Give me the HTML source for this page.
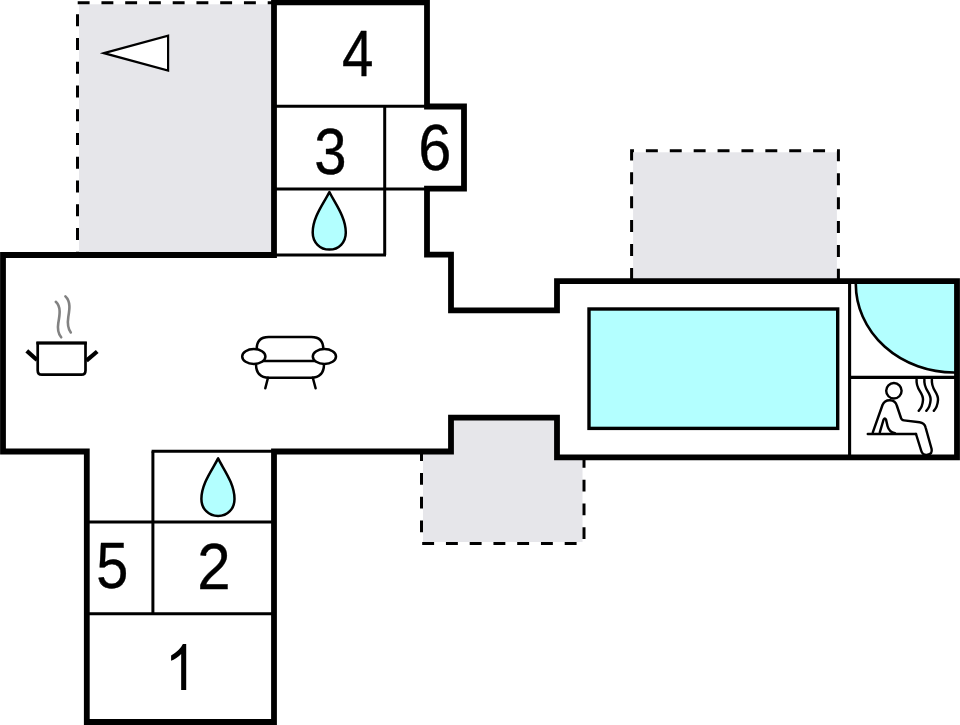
<!DOCTYPE html>
<html>
<head>
<meta charset="utf-8">
<title>Floor plan</title>
<style>
html,body{margin:0;padding:0;background:#fff;}
body{width:960px;height:725px;overflow:hidden;font-family:"Liberation Sans",sans-serif;}
svg{display:block;}
text{font-family:"Liberation Sans",sans-serif;fill:#000;}
</style>
</head>
<body>
<svg width="960" height="725" viewBox="0 0 960 725">
<rect x="0" y="0" width="960" height="725" fill="#ffffff"/>

<!-- grey outdoor areas -->
<g fill="#e6e6ea">
<rect x="79" y="4.3" width="195" height="250.7"/>
<rect x="633.1" y="152.3" width="203.8" height="128.7"/>
<path d="M423,451 H451 V417.5 H557 V457.4 H582.5 V542 H423 Z"/>
</g>

<!-- dashed outlines -->
<g fill="none" stroke="#000" stroke-width="3">
<path d="M77.5,253 V2.7 H272" stroke-dasharray="11.9 11.85" stroke-dashoffset="10.75"/>
<path d="M631.6,279 V150.8 H838.4 V279" stroke-dasharray="11.95 11.94" stroke-dashoffset="0.85"/>
<path d="M421.5,448 V543.5 H584 V455" stroke-dasharray="11.9 11.85" stroke-dashoffset="-1.2"/>
</g>

<!-- pool -->
<rect x="589" y="309" width="248.7" height="119.4" fill="#b3ffff" stroke="#000" stroke-width="3.4"/>
<!-- whirlpool quarter circle -->
<path d="M855.8,281 V284 A98.2,88.5 0 0 0 954,372.5 H957 V281 Z" fill="#b3ffff" stroke="none"/>
<path d="M855.8,281 V284 A98.2,88.5 0 0 0 954,372.5 H956" fill="none" stroke="#000" stroke-width="2.6"/>

<!-- thin interior lines -->
<g fill="none" stroke="#000" stroke-width="3">
<path d="M274,106.2 H427"/>
<path d="M384.7,106.2 V255"/>
<path d="M274,189 H427"/>
<path d="M274,255 H386"/>
<path d="M151.6,451.3 H274"/>
<path d="M152.9,451.3 V614"/>
<path d="M86.8,522 H274"/>
<path d="M86.8,613.7 H274"/>
</g>
<g fill="none" stroke="#000" stroke-width="3.1">
<path d="M849.6,281 V457"/>
<path d="M849.6,377.4 H957"/>
</g>

<!-- outer walls -->
<path d="M274,2.4 H427 V106.5 H464 V188.7 H427 V254.6 H451 V310.4 H557 V281.2 H957 V457.4 H557 V417.6 H451 V451.5 H274 V722 H86.8 V451.5 H3 V255 H274 Z" fill="none" stroke="#000" stroke-width="5.8" stroke-linejoin="miter"/>

<!-- triangle (compass/entrance arrow) -->
<path d="M104,53.15 L168.1,35.8 V70.5 Z" fill="#fff" stroke="#000" stroke-width="2.2" stroke-linejoin="miter"/>

<!-- droplets -->
<g fill="#b3ffff" stroke="#000" stroke-width="2.5" stroke-linejoin="round">
<path id="drop" d="M329.4,192 C324,203 312.7,217 312.7,232.5 C312.7,242.5 320,249.6 329.4,249.6 C338.8,249.6 345.8,242.5 345.8,232.5 C345.8,217 334.8,203 329.4,192 Z"/>
<path d="M218.1,458.4 C212.7,469.4 201.4,483.4 201.4,498.9 C201.4,508.9 208.7,516 218.1,516 C227.5,516 234.5,508.9 234.5,498.9 C234.5,483.4 223.5,469.4 218.1,458.4 Z"/>
</g>

<!-- cooking pot -->
<g fill="none" stroke="#000">
<path d="M37.7,343 H85.5 V370.5 Q85.5,374.7 81.3,374.7 H41.9 Q37.7,374.7 37.7,370.5 Z" fill="#fff" stroke-width="2.7"/>
<path d="M36.4,343 H86.8" stroke-width="3"/>
<path d="M26.8,350.9 L37,360" stroke-width="4.2"/>
<path d="M97.2,351.5 L86.4,360.6" stroke-width="4.2"/>
</g>
<g fill="none" stroke="#828282" stroke-width="2.6" stroke-linecap="round">
<path d="M55.8,301.8 C61.5,307 59.5,316 58.3,323 C57.3,329 58.5,334 61.2,337.3"/>
<path d="M65.4,296.4 C71,301.5 69.5,310 68.3,317 C67.3,323.5 68.2,329 70.8,332.5"/>
</g>

<!-- sofa -->
<g fill="#fff" stroke="#000" stroke-width="2.5">
<path d="M256.7,350 V349 Q256.7,337 268.7,337 H311.3 Q323.3,337 323.3,349 V350"/>
<path d="M256,364 Q256,377.7 269,377.7 H311 Q324,377.7 324,364"/>
<path d="M262,361 H316" />
<ellipse cx="253.8" cy="356.5" rx="11.6" ry="7.4"/>
<ellipse cx="324.4" cy="356.5" rx="11.6" ry="7.4"/>
<path d="M268,377.7 L265.3,388.3" stroke-linecap="round"/>
<path d="M312.8,377.7 L315.6,388.3" stroke-linecap="round"/>
</g>

<!-- sauna icon -->
<g fill="none" stroke="#000" stroke-width="2.45" stroke-linecap="round" stroke-linejoin="round">
<circle cx="893.9" cy="390.8" r="7.7"/>
<path d="M872.8,432.3 L882.5,405 Q884.5,400 890,400.2 Q895.5,400.5 896.8,405.5 L901,418 Q901.6,420.2 904,420.4 L919.5,422.3 Q924.5,423 925.6,427.5 L931.6,449 Q932.6,454 927.6,454.8 Q922.6,455.5 921.3,451 L916,434"/>
<path d="M879.8,432.3 L883.6,419.5 Q884.8,417.3 886,419.5 L887.5,426 Q889,432 895,433.3"/>
<path d="M867.8,434 H916" stroke-width="2.5"/>
<path d="M916.6,379.5 C915.5,390 923.5,392 923,400 C922.7,405 921,408.5 918.7,410.8"/>
<path d="M924.4,379.5 C923.3,390 931.2,392 930.6,400 C930.3,405 928.6,408.5 926.3,410.8"/>
<path d="M931.9,379.5 C930.8,390 938.6,392 938,400 C937.7,405 936,408.5 933.8,410.8"/>
</g>

<!-- room numbers -->
<g font-size="63.5" text-anchor="middle" stroke="#000" stroke-width="0.35" stroke-linejoin="round">
<text transform="translate(357.8,76) scale(0.89,1.035)">4</text>
<text transform="translate(330.5,173.6) scale(0.915,1.03)">3</text>
<text transform="translate(434.85,169.5) scale(0.938,1.025)">6</text>
<text transform="translate(112.2,588.1) scale(0.908,1.015)">5</text>
<text transform="translate(213.9,588.55) scale(0.944,1.024)">2</text>
</g>
<path transform="translate(164.87,689.9) scale(0.02796,-0.03122)" d="M763 0H583V1147Q518 1085 412.5 1023T223 930V1104Q373 1174.5 485 1275T644 1470H763V0Z" fill="#000"/>
</svg>
</body>
</html>
